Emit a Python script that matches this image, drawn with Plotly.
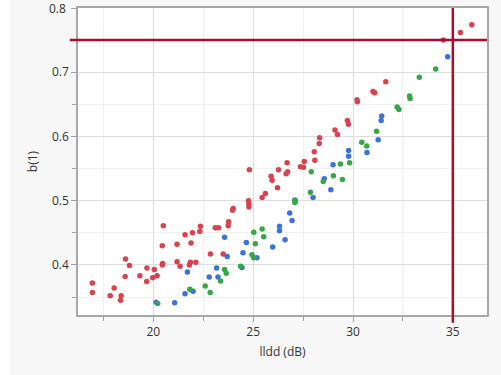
import plotly.graph_objects as go

# Scatter of b(1) against lldd (dB), three groups plus two reference lines
red_x = [16.95, 16.95, 17.84, 18.04, 18.36, 18.39, 18.59, 18.61, 18.81, 19.33,
         19.68, 19.67, 19.97, 20.05, 20.19, 20.45, 20.47, 20.45, 20.50, 21.19,
         21.19, 21.34, 21.59, 21.81, 21.86, 21.89, 21.96, 22.13, 22.33, 22.36,
         22.86, 23.10, 23.27, 23.50, 23.75, 23.77, 24.00, 23.97, 24.77, 24.79,
         24.79, 24.81, 25.45, 25.61, 25.90, 25.95, 26.22, 26.27, 26.65, 26.73,
         26.70, 27.37, 27.52, 27.56, 28.06, 28.09, 28.31, 28.33, 29.10, 29.22,
         29.72, 29.77, 30.20, 30.22, 31.00, 31.09, 31.64, 34.53, 35.38, 35.95]
red_y = [0.372, 0.357, 0.352, 0.364, 0.345, 0.352, 0.382, 0.409, 0.399, 0.383,
         0.395, 0.374, 0.380, 0.393, 0.383, 0.400, 0.402, 0.430, 0.461, 0.432,
         0.405, 0.398, 0.447, 0.400, 0.404, 0.434, 0.450, 0.404, 0.452, 0.460,
         0.417, 0.458, 0.458, 0.417, 0.461, 0.467, 0.488, 0.485, 0.500, 0.495,
         0.490, 0.548, 0.505, 0.511, 0.538, 0.532, 0.520, 0.548, 0.542, 0.545,
         0.559, 0.553, 0.552, 0.561, 0.576, 0.563, 0.589, 0.598, 0.610, 0.603,
         0.625, 0.619, 0.657, 0.654, 0.670, 0.668, 0.685, 0.750, 0.762, 0.774]

blue_x = [20.14, 21.07, 21.59, 21.71, 21.99, 22.80, 23.17, 23.24, 23.57, 23.70,
          24.44, 24.49, 24.66, 25.19, 25.98, 26.32, 26.32, 26.60, 26.83, 26.95,
          27.09, 28.00, 28.56, 28.89, 29.00, 29.78, 29.78, 30.70, 31.26, 31.41,
          31.44, 34.74]
blue_y = [0.342, 0.341, 0.355, 0.389, 0.359, 0.381, 0.395, 0.381, 0.443, 0.413,
          0.396, 0.419, 0.435, 0.411, 0.428, 0.460, 0.453, 0.439, 0.481, 0.469,
          0.501, 0.505, 0.534, 0.517, 0.556, 0.578, 0.569, 0.575, 0.595, 0.625,
          0.632, 0.724]

green_x = [20.22, 21.83, 22.60, 22.85, 23.37, 23.57, 23.65, 24.37, 24.94, 25.03,
           25.03, 25.11, 25.45, 25.53, 27.09, 27.12, 27.87, 27.91, 28.51, 29.02,
           29.37, 29.47, 29.83, 30.44, 30.69, 31.18, 32.21, 32.30, 32.83, 32.86,
           33.32, 34.14]
green_y = [0.340, 0.362, 0.367, 0.357, 0.375, 0.393, 0.387, 0.398, 0.416, 0.411,
           0.451, 0.433, 0.456, 0.444, 0.497, 0.500, 0.513, 0.545, 0.530, 0.539,
           0.557, 0.533, 0.559, 0.591, 0.585, 0.608, 0.646, 0.642, 0.663, 0.659,
           0.692, 0.705]

ref_x = 35
ref_y = 0.75

x_ticks = [20, 25, 30, 35]
y_ticks = [0.4, 0.5, 0.6, 0.7, 0.8]
y_labels = ["0.4", "0.5", "0.6", "0.7", "0.8"]

fig = go.Figure()
for xs, ys, col in [(red_x, red_y, "#D8434F"),
                    (blue_x, blue_y, "#3B74D8"),
                    (green_x, green_y, "#35A845")]:
    fig.add_trace(go.Scatter(x=xs, y=ys, mode="markers",
                             marker=dict(size=5.5, color=col, line=dict(width=0)),
                             showlegend=False, hoverinfo="x+y"))

line_col = "#A50F2D"
# horizontal and vertical reference lines, extending a little past the frame
fig.add_shape(type="line", xref="paper", yref="y", x0=-0.02, x1=1, y0=ref_y, y1=ref_y,
              line=dict(color=line_col, width=2.5), layer="above")
fig.add_shape(type="line", xref="x", yref="paper", x0=ref_x, x1=ref_x, y0=-0.025, y1=1,
              line=dict(color=line_col, width=2.5), layer="above")
# white strip at the far left of the page
fig.add_shape(type="rect", xref="paper", yref="paper", x0=-0.191, x1=-0.166, y0=-0.2, y1=1.03,
              fillcolor="white", line=dict(width=0), layer="below")

axis_font = dict(family="Open Sans, Noto Sans, sans-serif", size=12, color="#333333")

# the top label sits on the page edge, so it is placed as an annotation
fig.add_annotation(text=y_labels[-1], xref="paper", yref="y", x=-0.024, y=y_ticks[-1],
                   xanchor="right", yanchor="middle", showarrow=False, font=axis_font)

fig.update_xaxes(range=[16.23, 36.71], tickvals=x_ticks, ticks="outside", ticklen=5,
                 tickcolor="#a0a0a0", showgrid=True, gridcolor="#dedede", gridwidth=1,
                 minor=dict(dtick=2.5, tick0=17.5, ticks="outside", ticklen=4,
                            tickcolor="#a0a0a0", showgrid=True, gridcolor="#f0f0f0"),
                 showline=True, linecolor="#a8a8a8", linewidth=1.5, mirror=True,
                 zeroline=False, tickfont=axis_font, automargin=False,
                 title=dict(text="lldd (dB)", font=axis_font, standoff=8))
fig.update_yaxes(range=[0.322, 0.8], tickvals=y_ticks, ticktext=y_labels[:-1] + [""],
                 ticks="outside",
                 ticklen=5, tickcolor="#a0a0a0", showgrid=True, gridcolor="#dedede",
                 minor=dict(dtick=0.05, tick0=0.35, ticks="outside", ticklen=4,
                            tickcolor="#a0a0a0", showgrid=True, gridcolor="#f0f0f0"),
                 showline=True, linecolor="#a8a8a8", linewidth=1.5, mirror=True,
                 zeroline=False, tickfont=axis_font, automargin=False,
                 title=dict(text="b(1)", font=axis_font, standoff=12))

fig.update_layout(width=501, height=375, margin=dict(l=78, r=14, t=8, b=60),
                  paper_bgcolor="#f7f7f7", plot_bgcolor="white")

fig.write_html("out.html")
